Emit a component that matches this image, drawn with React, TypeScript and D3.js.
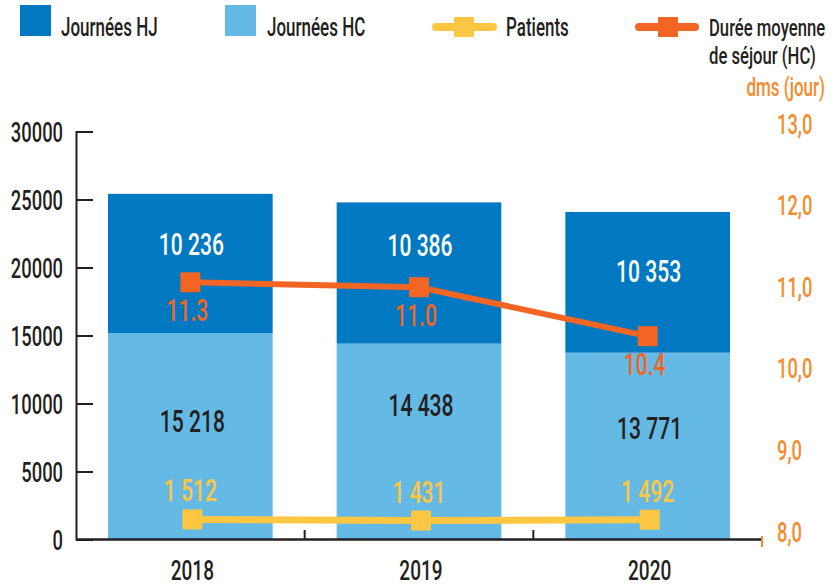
import React from "react";
import * as d3 from "d3";

const years = ["2018", "2019", "2020"];
const journeesHC = [15218, 14438, 13771];
const journeesHJ = [10236, 10386, 10353];
const patients = [1512, 1431, 1492];
const dmsValues = [11.06, 11.0, 10.4];
const dmsLabels = ["11.3", "11.0", "10.4"];
const leftTicks = [0, 5000, 10000, 15000, 20000, 25000, 30000];
const rightTicks = [8, 9, 10, 11, 12, 13];

const W = 836;
const H = 586;
const FONT = "Roboto, 'Liberation Sans', sans-serif";
const SX = 0.68;
const DARK = "#231f20";
const C_HJ = "#0079c2";
const C_HC = "#65b9e5";
const C_PAT = "#fdc744";
const C_DMS = "#f26522";
const C_AX2 = "#f68b2c";

const fmt = (v: number) => d3.format(",")(v).replace(/,/g, " ");

function T({ x, y, size, fill, anchor = "middle", children, weight = 500 }: any) {
  return (
    <text
      transform={`translate(${x},${y}) scale(${SX},1)`}
      fontSize={size}
      fill={fill}
      textAnchor={anchor}
      fontFamily={FONT}
      fontWeight={weight}
    >
      {children}
    </text>
  );
}

export default function App() {
  const x = d3.scaleBand<string>().domain(years).range([76, 762]).padding(0);
  const bw = x.bandwidth() * 0.72;
  const cx = (i: number) => (x(years[i]) as number) + x.bandwidth() / 2;
  const yL = d3.scaleLinear().domain([0, 30000]).range([540, 132]);
  const yR = d3.scaleLinear().domain([8, 13]).range([532, 124]);

  const hjNudge = [-19, -28, -11];
  const hcNudge = [-16, -37, -18];

  const patLine = d3
    .line<number>()
    .x((_, i) => cx(i))
    .y((d) => yL(d));
  const dmsLine = d3
    .line<number>()
    .x((_, i) => cx(i))
    .y((d) => yR(d));

  const cap = (s: number) => s * 0.355;
  const MS = 20;

  return (
    <svg
      width={W}
      height={H}
      style={{ position: "absolute", left: 0, top: 0, display: "block", background: "#fff" }}
    >
      {/* Legend */}
      <rect x={20} y={5} width={31} height={31} fill={C_HJ} />
      <T x={61} y={36} size={25} fill={DARK} anchor="start">Journées HJ</T>
      <rect x={225} y={5} width={31} height={31} fill={C_HC} />
      <T x={267} y={36} size={25} fill={DARK} anchor="start">Journées HC</T>
      <line x1={436} x2={493} y1={27} y2={27} stroke={C_PAT} strokeWidth={8} strokeLinecap="round" />
      <rect x={454} y={17} width={MS} height={MS} fill={C_PAT} />
      <T x={506} y={36} size={25} fill={DARK} anchor="start">Patients</T>
      <line x1={639} x2={695} y1={27} y2={27} stroke={C_DMS} strokeWidth={8} strokeLinecap="round" />
      <rect x={658} y={17} width={MS} height={MS} fill={C_DMS} />
      <T x={709} y={36} size={24.5} fill={DARK} anchor="start">Durée moyenne</T>
      <T x={709} y={64} size={24.5} fill={DARK} anchor="start">de séjour (HC)</T>
      <T x={825} y={96} size={25} fill={C_AX2} anchor="end">dms (jour)</T>

      {/* Bars */}
      {years.map((yr, i) => {
        const bx = cx(i) - bw / 2;
        const hcTop = yL(journeesHC[i]);
        const hjTop = yL(journeesHC[i] + journeesHJ[i]);
        return (
          <g key={yr}>
            <rect x={bx} y={hcTop} width={bw} height={yL(0) - hcTop} fill={C_HC} />
            <rect x={bx} y={hjTop} width={bw} height={hcTop - hjTop} fill={C_HJ} />
          </g>
        );
      })}

      {/* Left axis */}
      <line x1={76.5} x2={76.5} y1={yL(30000) - 1} y2={540.5} stroke={DARK} strokeWidth={2} />
      {leftTicks.map((t) => (
        <g key={t}>
          <line x1={76} x2={93} y1={yL(t)} y2={yL(t)} stroke={DARK} strokeWidth={2} />
          <T x={63} y={yL(t) + cap(27)} size={27} fill={DARK} anchor="end">{t}</T>
        </g>
      ))}
      {/* Baseline */}
      <line x1={76} x2={762} y1={539.5} y2={539.5} stroke={DARK} strokeWidth={2.5} />
      {years.slice(1).map((yr) => (
        <line key={yr} x1={x(yr) as number} x2={x(yr) as number} y1={530} y2={539} stroke={DARK} strokeWidth={2} />
      ))}
      <line x1={762} x2={762} y1={536} y2={547} stroke={C_AX2} strokeWidth={2} />
      {years.map((yr, i) => (
        <T key={yr} x={cx(i) + 2} y={580} size={28} fill={DARK}>{yr}</T>
      ))}

      {/* Right axis labels */}
      {rightTicks.map((t) => (
        <T key={t} x={777} y={yR(t) + cap(27)} size={27} fill={C_AX2} anchor="start">
          {t.toFixed(1).replace(".", ",")}
        </T>
      ))}

      {/* Bar value labels */}
      {years.map((yr, i) => {
        const hcTop = yL(journeesHC[i]);
        const hjTop = yL(journeesHC[i] + journeesHJ[i]);
        const hjMid = (hcTop + hjTop) / 2 + hjNudge[i];
        const hcMid = (yL(0) + hcTop) / 2 + hcNudge[i];
        return (
          <g key={yr}>
            <T x={cx(i) + 1} y={hjMid + cap(31)} size={31} fill="#ffffff">{fmt(journeesHJ[i])}</T>
            <T x={cx(i) + 2} y={hcMid + cap(31)} size={31} fill={DARK}>{fmt(journeesHC[i])}</T>
          </g>
        );
      })}

      {/* Patients line */}
      <path d={patLine(patients) || ""} fill="none" stroke={C_PAT} strokeWidth={7} />
      {patients.map((p, i) => (
        <g key={i}>
          <rect x={cx(i) - MS / 2 + 2} y={yL(p) - MS / 2} width={MS} height={MS} fill={C_PAT} />
          <T x={cx(i)} y={yL(p) - 29 + cap(31)} size={31} fill={C_PAT}>{fmt(p)}</T>
        </g>
      ))}

      {/* DMS line */}
      <path d={dmsLine(dmsValues) || ""} fill="none" stroke={C_DMS} strokeWidth={6} />
      {dmsValues.map((v, i) => (
        <g key={i}>
          <rect x={cx(i) - MS / 2} y={yR(v) - MS / 2} width={MS} height={MS} fill={C_DMS} />
          <T x={cx(i) - 3} y={yR(v) + 28 + cap(31)} size={31} fill={C_DMS}>{dmsLabels[i]}</T>
        </g>
      ))}
    </svg>
  );
}
